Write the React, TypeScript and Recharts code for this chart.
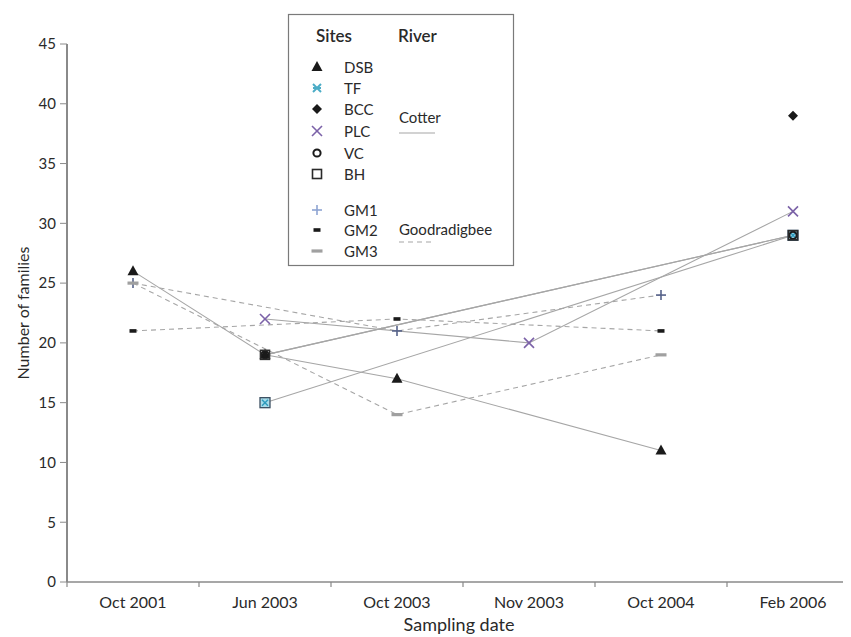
import React from 'react';
import { LineChart, Line, XAxis, YAxis } from 'recharts';

const categories = ['Oct 2001', 'Jun 2003', 'Oct 2003', 'Nov 2003', 'Oct 2004', 'Feb 2006'];
const dsb = [26, 19, 17, null, 11, null];
const tf = [null, 15, null, null, null, 29];
const bcc = [null, null, null, null, null, 39];
const plc = [null, 22, null, 20, null, 31];
const vc = [null, 19, null, null, null, 29];
const bh = [null, 19, null, null, null, 29];
const gm1 = [25, null, 21, null, 24, null];
const gm2 = [21, null, 22, null, 21, null];
const gm3 = [25, null, 14, null, 19, null];
const yTicks = [0, 5, 10, 15, 20, 25, 30, 35, 40, 45];
const xTicks = [-0.5, 0, 0.5, 1, 1.5, 2, 2.5, 3, 3.5, 4, 4.5, 5, 5.5];

const data = categories.map((c, i) => ({
  x: i,
  name: c,
  DSB: dsb[i],
  TF: tf[i],
  BCC: bcc[i],
  PLC: plc[i],
  VC: vc[i],
  BH: bh[i],
  GM1: gm1[i],
  GM2: gm2[i],
  GM3: gm3[i],
}));

const FONT = 'Lato, "Open Sans", sans-serif';
const LINE = '#a6a6a6';

type MK = 'tri' | 'ast' | 'dia' | 'x' | 'circ' | 'sq' | 'plus' | 'dash' | 'gdash';

function Marker({ kind, cx, cy, legend }: { kind: MK; cx: number; cy: number; legend?: boolean }) {
  switch (kind) {
    case 'tri':
      return <path d={`M${cx},${cy - 6} L${cx + 5.5},${cy + 4} L${cx - 5.5},${cy + 4} Z`} fill="#1a1a1a" />;
    case 'ast':
      if (legend) {
        return (
          <g stroke="#4bacc6" strokeWidth={2}>
            <line x1={cx - 4} y1={cy - 4} x2={cx + 4} y2={cy + 4} />
            <line x1={cx + 4} y1={cy - 4} x2={cx - 4} y2={cy + 4} />
            <line x1={cx - 4} y1={cy} x2={cx + 4} y2={cy} />
          </g>
        );
      }
      return (
        <g>
          <rect x={cx - 5} y={cy - 5} width={10} height={10} fill="#a8dcea" stroke="#3c5063" strokeWidth={1.3} />
          <g stroke="#2f9bbd" strokeWidth={1.5}>
            <line x1={cx - 3} y1={cy - 3} x2={cx + 3} y2={cy + 3} />
            <line x1={cx + 3} y1={cy - 3} x2={cx - 3} y2={cy + 3} />
          </g>
        </g>
      );
    case 'dia':
      return <path d={`M${cx},${cy - 5} L${cx + 5},${cy} L${cx},${cy + 5} L${cx - 5},${cy} Z`} fill="#1a1a1a" />;
    case 'x':
      return (
        <g stroke="#7b62a8" strokeWidth={1.6}>
          <line x1={cx - 5} y1={cy - 5} x2={cx + 5} y2={cy + 5} />
          <line x1={cx + 5} y1={cy - 5} x2={cx - 5} y2={cy + 5} />
        </g>
      );
    case 'circ':
      return <circle cx={cx} cy={cy} r={3.6} fill="none" stroke="#1a1a1a" strokeWidth={2} />;
    case 'sq':
      return <rect x={cx - 4.5} y={cy - 4.5} width={9} height={9} fill="none" stroke="#2a2a2a" strokeWidth={1.6} />;
    case 'plus':
      return (
        <g stroke={legend ? '#8ea4d2' : '#56628a'} strokeWidth={1.6}>
          <line x1={cx - 5} y1={cy} x2={cx + 5} y2={cy} />
          <line x1={cx} y1={cy - 5} x2={cx} y2={cy + 5} />
        </g>
      );
    case 'dash':
      return <rect x={cx - 3.5} y={cy - 1.8} width={7} height={3.6} fill="#1a1a1a" />;
    case 'gdash':
      return <rect x={cx - 5.5} y={cy - 1.6} width={11} height={3.2} fill="#a0a0a0" />;
  }
  return null;
}

function dotFor(kind: MK, name: string) {
  return (props: any) => {
    const { cx, cy, index, value } = props;
    if (cy == null || value == null || isNaN(cy)) return <g key={`${name}-${index}`} />;
    return (
      <g key={`${name}-${index}`}>
        <Marker kind={kind} cx={cx} cy={cy} />
      </g>
    );
  };
}

function XTick(props: any) {
  const { x, y, payload } = props;
  const v = payload.value as number;
  if (Number.isInteger(v)) {
    return (
      <text x={x} y={y + 19} textAnchor="middle" dominantBaseline="central" fontFamily={FONT} fontSize={16} fill="#2a2a2a">
        {categories[v]}
      </text>
    );
  }
  return <line x1={x} y1={y} x2={x} y2={y + 5} stroke="#888" strokeWidth={1.2} />;
}

const series: { key: string; kind: MK; dashed: boolean }[] = [
  { key: 'GM1', kind: 'plus', dashed: true },
  { key: 'GM2', kind: 'dash', dashed: true },
  { key: 'GM3', kind: 'gdash', dashed: true },
  { key: 'DSB', kind: 'tri', dashed: false },
  { key: 'TF', kind: 'ast', dashed: false },
  { key: 'BCC', kind: 'dia', dashed: false },
  { key: 'PLC', kind: 'x', dashed: false },
  { key: 'VC', kind: 'circ', dashed: false },
  { key: 'BH', kind: 'sq', dashed: false },
];

const legendSites: { key: string; kind: MK; y: number }[] = [
  { key: 'DSB', kind: 'tri', y: 59 },
  { key: 'TF', kind: 'ast', y: 80 },
  { key: 'BCC', kind: 'dia', y: 101 },
  { key: 'PLC', kind: 'x', y: 123 },
  { key: 'VC', kind: 'circ', y: 145 },
  { key: 'BH', kind: 'sq', y: 166 },
  { key: 'GM1', kind: 'plus', y: 202 },
  { key: 'GM2', kind: 'dash', y: 222 },
  { key: 'GM3', kind: 'gdash', y: 243 },
];

export default function App() {
  const W = 851;
  const H = 629;
  return (
    <div style={{ width: 843, height: H, overflow: 'hidden', position: 'relative' }}>
      <div style={{ position: 'absolute', left: 0, top: 0, width: W, height: H }}>
        <LineChart width={W} height={H} data={data} margin={{ top: 36, right: 0, bottom: 0, left: 0 }}>
          <XAxis
            type="number"
            dataKey="x"
            domain={[-0.5, 5.5]}
            ticks={xTicks}
            interval={0}
            allowDataOverflow
            height={55}
            tickLine={false}
            tickSize={0}
            tickMargin={0}
            tick={<XTick />}
            axisLine={{ stroke: '#8a8a8a', strokeWidth: 1.5 }}
          />
          <YAxis
            type="number"
            domain={[0, 45]}
            ticks={yTicks}
            interval={0}
            width={59}
            tickSize={7}
            tickMargin={4}
            tickLine={{ stroke: '#8a8a8a' }}
            axisLine={{ stroke: '#8a8a8a', strokeWidth: 2 }}
            tick={{ fontFamily: FONT, fontSize: 15, fill: '#2a2a2a' }}
          />
          {series.map((s) => (
            <Line
              key={s.key}
              dataKey={s.key}
              type="linear"
              connectNulls
              isAnimationActive={false}
              stroke={LINE}
              strokeWidth={1.1}
              strokeDasharray={s.dashed ? '5 4' : undefined}
              dot={dotFor(s.kind, s.key)}
              activeDot={false}
            />
          ))}
        </LineChart>
        <svg
          width={W}
          height={H}
          style={{ position: 'absolute', left: 0, top: 0, pointerEvents: 'none' }}
          fontFamily={FONT}
        >
          <text x={451} y={616} textAnchor="middle" dominantBaseline="central" fontSize={18} fill="#2a2a2a">
            Sampling date
          </text>
          <text
            x={14}
            y={305}
            textAnchor="middle"
            dominantBaseline="central"
            fontSize={16}
            fill="#2a2a2a"
            transform="rotate(-90 14 305)"
          >
            Number of families
          </text>
          <rect x={280.5} y={6.5} width={225} height={251} fill="#fff" stroke="#7a7a7a" strokeWidth={1.2} />
          <text x={308} y={27} dominantBaseline="central" fontSize={17} fontWeight={600} fill="#2a2a2a">
            Sites
          </text>
          <text x={390} y={27} dominantBaseline="central" fontSize={17} fontWeight={600} fill="#2a2a2a">
            River
          </text>
          {legendSites.map((l) => (
            <g key={l.key}>
              <Marker kind={l.kind} cx={309} cy={l.y} legend />
              <text x={336} y={l.y} dominantBaseline="central" fontSize={15} fill="#2a2a2a">
                {l.key}
              </text>
            </g>
          ))}
          <text x={391} y={109} dominantBaseline="central" fontSize={15} fill="#2a2a2a">
            Cotter
          </text>
          <line x1={391} y1={125} x2={427} y2={125} stroke={LINE} strokeWidth={1.2} />
          <text x={391} y={221} dominantBaseline="central" fontSize={15} fill="#2a2a2a">
            Goodradigbee
          </text>
          <line x1={391} y1={234} x2={427} y2={234} stroke={LINE} strokeWidth={1.2} strokeDasharray="5 4" />
        </svg>
      </div>
    </div>
  );
}
